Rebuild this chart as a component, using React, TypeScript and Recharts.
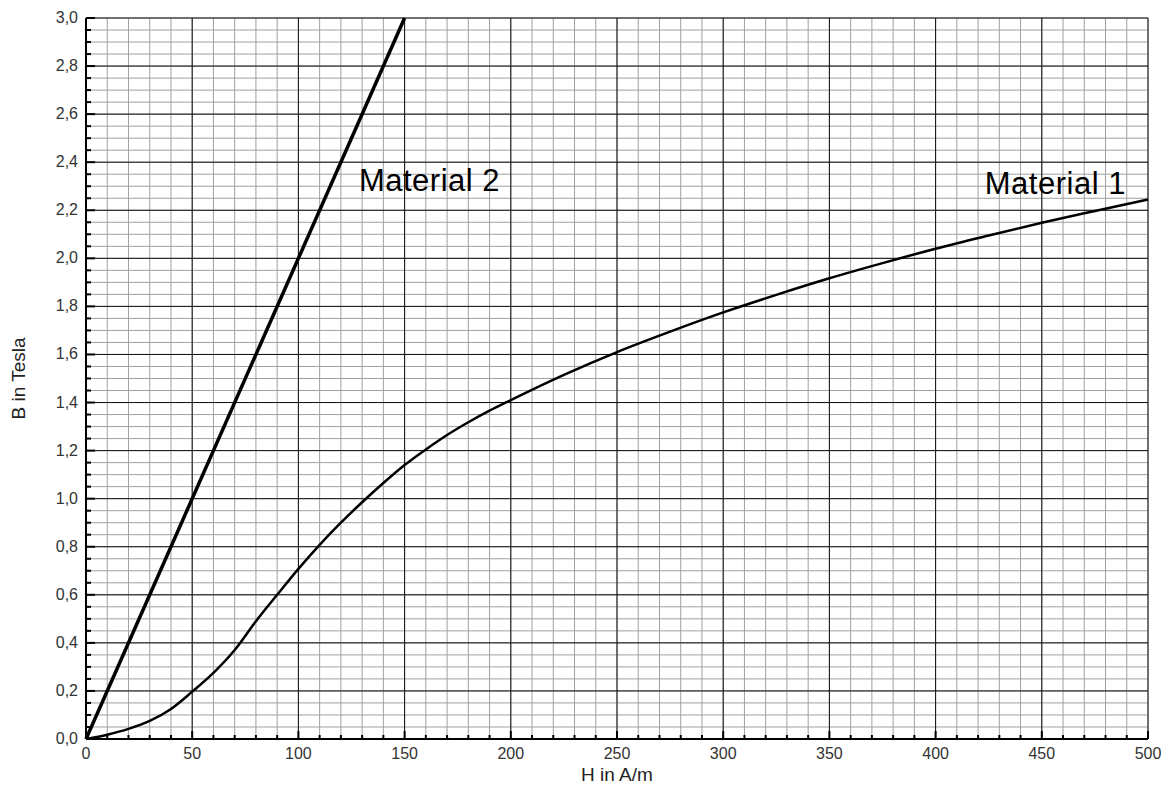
import React from "react";
import {
  LineChart,
  Line,
  XAxis,
  YAxis,
  CartesianGrid,
  ReferenceDot,
} from "recharts";

// Material 1: B(H) curve
const material1H = [0, 10, 20, 30, 40, 50, 60, 70, 80, 90, 100, 110, 120, 130, 140, 150, 160, 170, 180, 190, 200, 225, 250, 275, 300, 325, 350, 375, 400, 425, 450, 475, 500];
const material1B = [0, 0.018, 0.042, 0.075, 0.125, 0.197, 0.275, 0.37, 0.49, 0.6, 0.708, 0.808, 0.9, 0.985, 1.065, 1.14, 1.205, 1.265, 1.318, 1.366, 1.41, 1.515, 1.61, 1.695, 1.775, 1.848, 1.917, 1.98, 2.04, 2.095, 2.148, 2.197, 2.245];

// Material 2: straight line
const material2H = [0, 150];
const material2B = [0, 3.0];

// axis ticks / grid
const xMinorTicks = Array.from({ length: 51 }, (_, i) => i * 10);
const xMajorTicks = [0, 50, 100, 150, 200, 250, 300, 350, 400, 450, 500];
const yMinorTicks = Array.from({ length: 61 }, (_, i) => i * 0.05);
const yMajorTicks = [0, 0.2, 0.4, 0.6, 0.8, 1.0, 1.2, 1.4, 1.6, 1.8, 2.0, 2.2, 2.4, 2.6, 2.8, 3.0];

const m1Data = material1H.map((h, i) => ({ h, b: material1B[i] }));
const m2Data = material2H.map((h, i) => ({ h, b: material2B[i] }));

const FONT = "'Liberation Sans', Arial, sans-serif";
const isMajorX = (v: number) => Math.round(v) % 50 === 0;
const isMajorY = (v: number) => Math.round(v / 0.05) % 4 === 0;
const fmtY = (v: number) => v.toFixed(1).replace(".", ",");

function BottomTick({ x, y, payload }: any) {
  const v = payload.value;
  const major = isMajorX(v);
  return (
    <g>
      <line x1={x} y1={y} x2={x} y2={y - (major ? 8 : 4)} stroke="#000" strokeWidth={2} />
      {major && (
        <text x={x} y={y + 20} textAnchor="middle" fontSize={16} fill="#333" fontFamily={FONT}>
          {v}
        </text>
      )}
    </g>
  );
}

function TopTick({ x, y, payload }: any) {
  const major = isMajorX(payload.value);
  return <line x1={x} y1={y} x2={x} y2={y + (major ? 8 : 4)} stroke="#000" strokeWidth={2} />;
}

function LeftTick({ x, y, payload }: any) {
  const v = payload.value;
  const major = isMajorY(v);
  return (
    <g>
      <line x1={x} y1={y} x2={x + (major ? 9 : 5)} y2={y} stroke="#000" strokeWidth={2} />
      {major && (
        <text x={x - 8} y={y + 5} textAnchor="end" fontSize={16} fill="#333" fontFamily={FONT}>
          {fmtY(v)}
        </text>
      )}
    </g>
  );
}

function RightTick({ x, y, payload }: any) {
  const major = isMajorY(payload.value);
  return <line x1={x} y1={y} x2={x - (major ? 9 : 5)} y2={y} stroke="#000" strokeWidth={2} />;
}

export default function App() {
  return (
    <div style={{ position: "absolute", left: 0, top: 0, background: "#fff", fontFamily: FONT }}>
      <LineChart width={1165} height={791} margin={{ top: 18, right: 17, bottom: 0, left: 0 }}>
        <CartesianGrid
          stroke="#a0a0a0"
          strokeWidth={1}
          horizontalValues={yMinorTicks}
          verticalValues={xMinorTicks}
        />
        <CartesianGrid
          stroke="#111"
          strokeWidth={1}
          horizontalValues={yMajorTicks}
          verticalValues={xMajorTicks}
        />
        <XAxis
          dataKey="h"
          type="number"
          domain={[0, 500]}
          ticks={xMinorTicks}
          interval={0}
          height={52}
          tickSize={0}
          tickMargin={0}
          tickLine={false}
          axisLine={{ stroke: "#000", strokeWidth: 2 }}
          tick={<BottomTick />}
          label={(p: any) => (
            <text
              x={p.viewBox.x + p.viewBox.width / 2}
              y={p.viewBox.y + 42}
              textAnchor="middle"
              fontSize={19}
              fill="#222"
              fontFamily={FONT}
            >
              H in A/m
            </text>
          )}
        />
        <XAxis
          xAxisId="top"
          orientation="top"
          dataKey="h"
          type="number"
          domain={[0, 500]}
          ticks={xMinorTicks}
          interval={0}
          height={0}
          tickSize={0}
          tickMargin={0}
          tickLine={false}
          axisLine={{ stroke: "#000", strokeWidth: 2 }}
          tick={<TopTick />}
        />
        <YAxis
          type="number"
          domain={[0, 3]}
          ticks={yMinorTicks}
          interval={0}
          width={86}
          tickSize={0}
          tickMargin={0}
          tickLine={false}
          axisLine={{ stroke: "#000", strokeWidth: 2 }}
          tick={<LeftTick />}
          label={(p: any) => {
            const cx = p.viewBox.x + 25;
            const cy = p.viewBox.y + p.viewBox.height / 2;
            return (
              <text
                x={cx}
                y={cy}
                transform={`rotate(-90 ${cx} ${cy})`}
                textAnchor="middle"
                fontSize={19}
                fill="#222"
                fontFamily={FONT}
              >
                B in Tesla
              </text>
            );
          }}
        />
        <YAxis
          yAxisId="right"
          orientation="right"
          type="number"
          domain={[0, 3]}
          ticks={yMinorTicks}
          interval={0}
          width={0}
          tickSize={0}
          tickMargin={0}
          tickLine={false}
          axisLine={{ stroke: "#000", strokeWidth: 2 }}
          tick={<RightTick />}
        />
        <Line
          data={m1Data}
          dataKey="b"
          type="monotone"
          stroke="#000"
          strokeWidth={2.5}
          dot={false}
          isAnimationActive={false}
        />
        <Line
          data={m2Data}
          dataKey="b"
          type="linear"
          stroke="#000"
          strokeWidth={3.5}
          dot={false}
          isAnimationActive={false}
        />
        <ReferenceDot
          x={128.5}
          y={2.28}
          r={1}
          fill="none"
          stroke="none"
          label={(p: any) => (
            <text x={p.viewBox.x + 1} y={p.viewBox.y + 1} textAnchor="start" fontSize={31} letterSpacing={0.5} fill="#000" fontFamily={FONT}>
              Material 2
            </text>
          )}
        />
        <ReferenceDot
          x={489.6}
          y={2.268}
          r={1}
          fill="none"
          stroke="none"
          label={(p: any) => (
            <text x={p.viewBox.x + 1} y={p.viewBox.y + 1} textAnchor="end" fontSize={31} letterSpacing={0.5} fill="#000" fontFamily={FONT}>
              Material  1
            </text>
          )}
        />
      </LineChart>
    </div>
  );
}
